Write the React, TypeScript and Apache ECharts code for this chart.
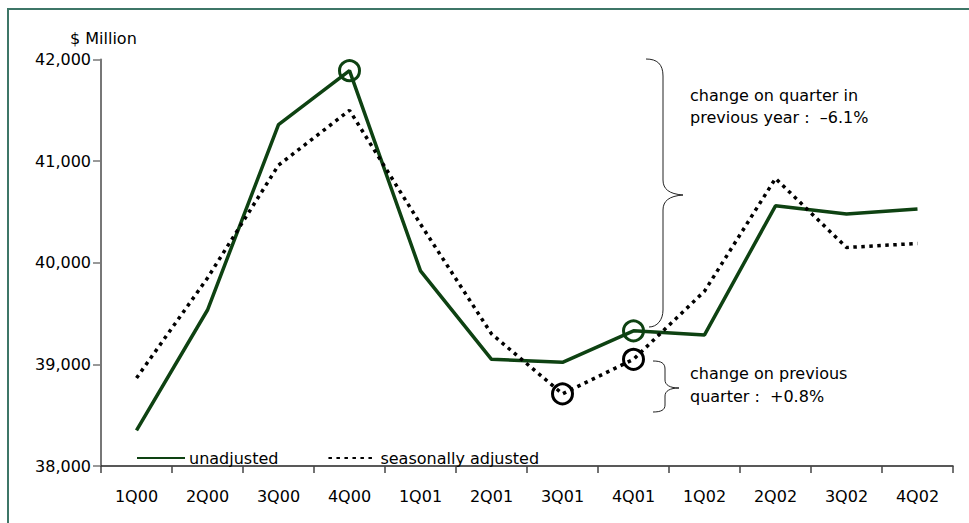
import React, { useEffect, useRef } from 'react';
import * as echarts from 'echarts';

const categories = ['1Q00', '2Q00', '3Q00', '4Q00', '1Q01', '2Q01', '3Q01', '4Q01', '1Q02', '2Q02', '3Q02', '4Q02'];
const unadjusted = [38350, 39535, 41360, 41890, 39920, 39050, 39020, 39330, 39290, 40560, 40480, 40530];
const seasonallyAdjusted = [38866, 39850, 40960, 41500, 40380, 39300, 38710, 39050, 39720, 40830, 40150, 40190];
const yMin = 38000;
const yMax = 42000;
const yStep = 1000;
const unadjustedCircled = ['4Q00', '4Q01'];
const adjustedCircled = ['3Q01', '4Q01'];
const seriesNames = ['unadjusted', 'seasonally adjusted'];
const yearNote = ['change on quarter in', 'previous year :  \u20136.1%'];
const quarterNote = ['change on previous', 'quarter :  +0.8%'];
const unitLabel = '$ Million';

const GREEN = '#0e4212';
const FONT = 'DejaVu Sans';

const bigBrace =
  'M646,59 C657,59 663,64 663,76 L663,180 C663,189 669,194 683,195 C669,196 663,201 663,210 L663,310 C663,320 657,327 649,327';
const smallBrace =
  'M653,361 C661,361 665,363 665,369 L665,380 C665,385 670,388 679,388 C670,388 665,391 665,396 L665,405 C665,410 661,412 653,412';

let registered = false;
function registerShapes() {
  if (registered) return;
  echarts.graphic.registerShape('bigBrace', echarts.graphic.extendPath(bigBrace, {}));
  echarts.graphic.registerShape('smallBrace', echarts.graphic.extendPath(smallBrace, {}));
  registered = true;
}

function buildData(values: number[], circled: string[], color: string) {
  return values.map((v, i) =>
    circled.includes(categories[i])
      ? {
          value: v,
          symbol: 'circle',
          symbolSize: 20,
          itemStyle: { color: 'rgba(0,0,0,0)', borderColor: color, borderWidth: 3 },
        }
      : { value: v, symbol: 'none' }
  );
}

function textEl(text: string, x: number, y: number) {
  return {
    type: 'text',
    x,
    y,
    style: {
      text,
      fontSize: 16,
      fontFamily: FONT,
      fill: '#000',
      align: 'left',
      verticalAlign: 'middle',
    },
  };
}

export default function App() {
  const ref = useRef<HTMLDivElement>(null);

  useEffect(() => {
    if (!ref.current) return;
    registerShapes();
    const chart = echarts.init(ref.current, undefined, { renderer: 'svg' });
    chart.setOption({
      animation: false,
      backgroundColor: '#fff',
      textStyle: { fontFamily: FONT },
      grid: { left: 101, right: 16, top: 59.5, bottom: 57, containLabel: false },
      legend: {
        data: seriesNames,
        left: 136,
        top: 450,
        padding: 0,
        itemWidth: 48,
        itemHeight: 14,
        itemGap: 49,
        itemStyle: { opacity: 0 },
        textStyle: { fontSize: 16, fontFamily: FONT, color: '#000', padding: [0, 0, 0, -1] },
        selectedMode: false,
      },
      xAxis: {
        type: 'category',
        data: categories,
        boundaryGap: true,
        axisLine: { show: true, lineStyle: { color: '#222', width: 1.5 } },
        axisTick: { show: true, length: 7, lineStyle: { color: '#444', width: 1.5 } },
        axisLabel: { margin: 22, fontSize: 16, fontFamily: FONT, color: '#000' },
        splitLine: { show: false },
      },
      yAxis: {
        type: 'value',
        min: yMin,
        max: yMax,
        interval: yStep,
        axisLine: { show: true, lineStyle: { color: '#777', width: 2 } },
        axisTick: { show: true, length: 8, lineStyle: { color: '#777', width: 1.5 } },
        axisLabel: {
          margin: 10,
          fontSize: 16,
          fontFamily: FONT,
          color: '#000',
          formatter: (v: number) => v.toLocaleString('en-US'),
        },
        splitLine: { show: false },
      },
      series: [
        {
          name: seriesNames[0],
          type: 'line',
          symbol: 'none',
          showSymbol: true,
          showAllSymbol: true,
          itemStyle: { color: GREEN },
          lineStyle: { color: GREEN, width: 3.5 },
          data: buildData(unadjusted, unadjustedCircled, GREEN),
          z: 3,
        },
        {
          name: seriesNames[1],
          type: 'line',
          symbol: 'none',
          showSymbol: true,
          showAllSymbol: true,
          itemStyle: { color: '#000' },
          lineStyle: { color: '#000', width: 3.5, type: [3.5, 4.5], cap: 'butt' },
          data: buildData(seasonallyAdjusted, adjustedCircled, '#000'),
          z: 4,
        },
      ],
      graphic: [
        {
          type: 'rect',
          shape: { x: 8, y: 9, width: 1200, height: 800 },
          style: { fill: 'none', stroke: '#3d7667', lineWidth: 2 },
          silent: true,
        },
        {
          type: 'bigBrace',
          x: 0,
          y: 0,
          style: { fill: 'none', stroke: '#222', lineWidth: 1 },
          silent: true,
        },
        {
          type: 'smallBrace',
          x: 0,
          y: 0,
          style: { fill: 'none', stroke: '#222', lineWidth: 1 },
          silent: true,
        },
        textEl(unitLabel, 70, 38),
        textEl(yearNote[0], 690, 95),
        textEl(yearNote[1], 690, 117),
        textEl(quarterNote[0], 690, 373),
        textEl(quarterNote[1], 690, 396),
      ],
    });
    return () => chart.dispose();
  }, []);

  return (
    <div
      ref={ref}
      style={{ position: 'fixed', left: 0, top: 0, width: 969, height: 523, background: '#fff' }}
    />
  );
}
